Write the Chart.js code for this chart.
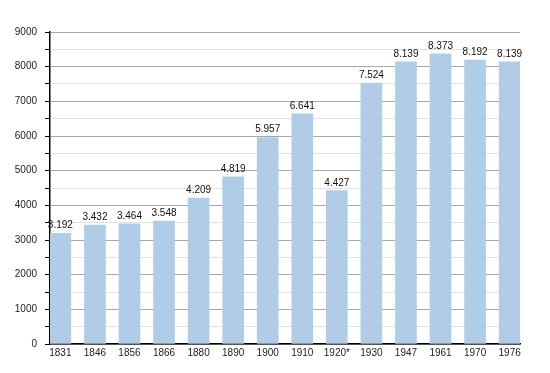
<!doctype html>
<html lang="en">
<head>
<meta charset="utf-8">
<title>Population</title>
<style>
  html, body { margin: 0; background: #fff; }
  .wrap { width: 550px; height: 373px; position: relative; }
</style>
</head>
<body>
<div class="wrap"><canvas id="chart"></canvas></div>
<script src="https://cdn.jsdelivr.net/npm/chart.js@4.4.4/dist/chart.umd.min.js"></script>
<script>
const years = ["1831", "1846", "1856", "1866", "1880", "1890", "1900", "1910", "1920*", "1930", "1947", "1961", "1970", "1976"];
const population = [3192, 3432, 3464, 3548, 4209, 4819, 5957, 6641, 4427, 7524, 8139, 8373, 8192, 8139];
const valueLabels = ["3.192", "3.432", "3.464", "3.548", "4.209", "4.819", "5.957", "6.641", "4.427", "7.524", "8.139", "8.373", "8.192", "8.139"];
const yTicks = [0, 1000, 2000, 3000, 4000, 5000, 6000, 7000, 8000, 9000];

const FONT = "'Liberation Sans', Arial, sans-serif";

// Bars sit on a linear x axis (index per census year) so the first and last
// bars can come almost flush with the plot edges, like the original.
const points = population.map((v, i) => ({ x: i, y: v }));

// Draws the value above each bar.
const barLabels = {
  id: "barLabels",
  afterDatasetsDraw(chart) {
    const ctx = chart.ctx;
    const meta = chart.getDatasetMeta(0);
    ctx.save();
    ctx.font = "10px " + FONT;
    ctx.fillStyle = "#111";
    ctx.textAlign = "center";
    ctx.textBaseline = "alphabetic";
    meta.data.forEach((bar, i) => {
      ctx.fillText(valueLabels[i], bar.x, bar.y - 5);
    });
    ctx.restore();
  },
};

new Chart(document.getElementById("chart"), {
  type: "bar",
  data: {
    datasets: [{
      data: points,
      backgroundColor: "#b1cce6",
      borderWidth: 0,
      barThickness: 21,
    }],
  },
  options: {
    responsive: true,
    maintainAspectRatio: false,
    animation: false,
    devicePixelRatio: 1,
    layout: { padding: { left: 0, right: 30, top: 32, bottom: 11 } },
    plugins: { legend: { display: false }, tooltip: { enabled: false } },
    scales: {
      x: {
        type: "linear",
        min: -0.3,
        max: 13.3,
        offset: false,
        afterBuildTicks: (s) => { s.ticks = years.map((_, i) => ({ value: i })); },
        grid: { display: false, drawTicks: false },
        border: { color: "#000", width: 1.5 },
        ticks: {
          color: "#222",
          font: { family: FONT, size: 10 },
          padding: 3,
          maxRotation: 0,
          autoSkip: false,
          callback: (v) => years[v] ?? "",
        },
      },
      y: {
        min: 0,
        max: 9000,
        afterFit: (s) => { s.width = 50; },
        border: { color: "#000", width: 1.5 },
        grid: {
          color: (c) => (c.tick && yTicks.includes(c.tick.value) ? "#a8a8a8" : "#e2e2e2"),
          tickColor: "#000",
          tickLength: 5,
        },
        ticks: {
          stepSize: 500,
          color: "#222",
          font: { family: FONT, size: 10 },
          padding: 8,
          callback: (v) => (yTicks.includes(v) ? String(v) : ""),
        },
      },
    },
  },
  plugins: [barLabels],
});
</script>
</body>
</html>
